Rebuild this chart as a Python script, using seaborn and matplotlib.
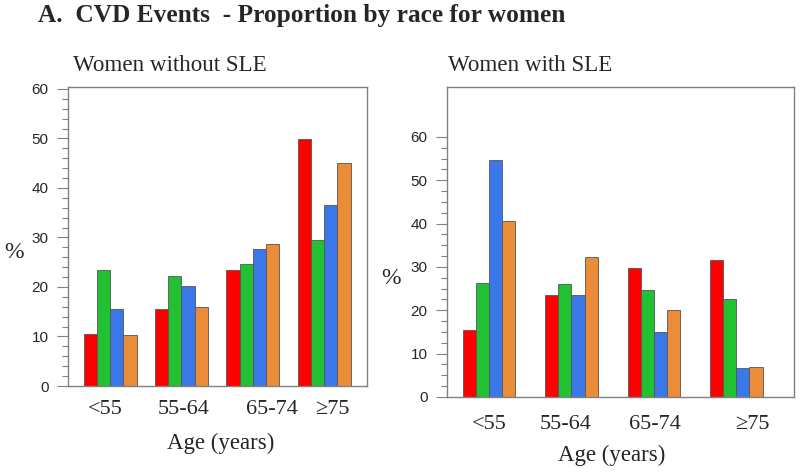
import matplotlib
matplotlib.use("Agg")
import matplotlib.pyplot as plt
from matplotlib.ticker import FixedLocator
import numpy as np
import seaborn as sns
import pandas as pd

# ---- data ----
age_groups = ["<55", "55-64", "65-74", "≥75"]
races = ["Race 1", "Race 2", "Race 3", "Race 4"]
race_colors = ["#FF0000", "#22C033", "#3A78EA", "#EA8C38"]

# Women without SLE (%), per race, by age group
no_sle_race1 = [10.6, 15.6, 23.5, 49.8]
no_sle_race2 = [23.5, 22.3, 24.7, 29.5]
no_sle_race3 = [15.6, 20.3, 27.6, 36.6]
no_sle_race4 = [10.4, 15.9, 28.7, 45.0]

# Women with SLE (%), per race, by age group
sle_race1 = [15.4, 23.6, 29.7, 31.7]
sle_race2 = [26.4, 26.0, 24.7, 22.6]
sle_race3 = [54.7, 23.6, 15.0, 6.6]
sle_race4 = [40.6, 32.3, 20.1, 7.0]

y_ticks = [0, 10, 20, 30, 40, 50, 60]

title = "A.  CVD Events  - Proportion by race for women"
left_title = "Women without SLE"
right_title = "Women with SLE"
xlabel = "Age (years)"
ylabel = "%"


def to_long(series):
    rows = []
    for race, vals in zip(races, series):
        for age, v in zip(age_groups, vals):
            rows.append({"age": age, "race": race, "pct": v})
    return pd.DataFrame(rows)


df_no = to_long([no_sle_race1, no_sle_race2, no_sle_race3, no_sle_race4])
df_sle = to_long([sle_race1, sle_race2, sle_race3, sle_race4])

sns.set_theme(style="white")
plt.rcParams["font.family"] = ["Liberation Sans", "DejaVu Sans"]

W, H = 800, 472
fig = plt.figure(figsize=(W / 100, H / 100), dpi=100)


def px_axes(l, t, r, b):
    return fig.add_axes([l / W, 1 - b / H, (r - l) / W, (b - t) / H])


ax1 = px_axes(68, 87, 367, 386)
ax2 = px_axes(447, 87, 794, 397)

serif = ["Liberation Serif", "DejaVu Serif"]

configs = [
    (ax1, df_no, 0.74, (-0.59, 3.6), (0, 60.4), 2, [-0.07, 0.03, 0.27, 0.11], 10),
    (ax2, df_sle, 0.636, (-0.51, 3.70), (0, 71.5), 2.5, [0.0, -0.07, 0.01, 0.19], 13),
]

for ax, df, width, xl, yl, minor, offs, pad in configs:
    sns.barplot(data=df, x="age", y="pct", hue="race", order=age_groups,
                hue_order=races, palette=race_colors, width=width,
                edgecolor="#555555", linewidth=0.6, errorbar=None,
                legend=False, ax=ax, saturation=1)
    ax.set_xlim(*xl)
    ax.set_ylim(*yl)
    ax.set_xlabel("")
    ax.set_ylabel("")
    ax.set_xticks([i + o for i, o in enumerate(offs)])
    ax.set_xticklabels(age_groups, fontfamily=serif, fontsize=16)
    ax.tick_params(axis="x", length=0, pad=pad)
    ax.yaxis.set_major_locator(FixedLocator(y_ticks))
    ax.yaxis.set_minor_locator(FixedLocator(np.arange(0, y_ticks[-1] + 0.01, minor)))
    ax.tick_params(axis="y", which="major", left=True, length=8, width=0.8,
                   color="#808080", labelsize=11, pad=6)
    ax.tick_params(axis="y", which="minor", left=True, length=4, width=0.8,
                   color="#808080")
    for s in ax.spines.values():
        s.set_visible(True)
        s.set_color("#808080")
        s.set_linewidth(1.0)

fig.text(38 / W, 1 - 22 / H, title, fontfamily=serif, fontweight="bold",
         fontsize=18.3, ha="left", va="baseline")
fig.text(73 / W, 1 - 71 / H, left_title, fontfamily=serif, fontsize=16.6,
         ha="left", va="baseline")
fig.text(448 / W, 1 - 71 / H, right_title, fontfamily=serif, fontsize=16.6,
         ha="left", va="baseline")
fig.text(14 / W, 1 - 252 / H, ylabel, fontfamily=serif, fontsize=17,
         ha="center", va="center")
fig.text(391 / W, 1 - 279 / H, ylabel, fontfamily=serif, fontsize=17,
         ha="center", va="center")
fig.text(221 / W, 1 - 443 / H, xlabel, fontfamily=serif, fontsize=16.5,
         ha="center", va="center")
fig.text(612 / W, 1 - 455 / H, xlabel, fontfamily=serif, fontsize=16.5,
         ha="center", va="center")

fig.savefig("out.png", dpi=100)
